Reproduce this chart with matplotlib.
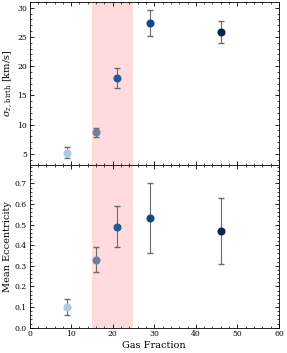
import matplotlib
matplotlib.use("Agg")
import matplotlib.pyplot as plt
from matplotlib.ticker import MultipleLocator

plt.rcParams['font.family'] = ['DejaVu Serif']
plt.rcParams['mathtext.fontset'] = 'dejavuserif'

gas_fraction = [9, 16, 21, 29, 46]
sigma_z = [5.2, 8.65, 18.0, 27.4, 25.9]
sigma_err = [0.95, 0.8, 1.7, 2.2, 1.9]
ecc = [0.10, 0.33, 0.49, 0.53, 0.47]
ecc_err = [0.04, 0.06, 0.10, 0.17, 0.16]
colors = ['#a8cce8', '#6a82a0', '#1f5a9a', '#0a4a8a', '#08244f']
span = (15, 25)

fig = plt.figure(figsize=(2.87, 3.53), dpi=100)
ax1 = fig.add_axes([0.103, 0.533, 0.869, 0.460])
ax2 = fig.add_axes([0.103, 0.0717, 0.869, 0.4613], sharex=ax1)

for ax, yv, ye in [(ax1, sigma_z, sigma_err), (ax2, ecc, ecc_err)]:
    ax.axvspan(span[0], span[1], color='#ff9aa2', alpha=0.35, lw=0, zorder=0)
    for x, y, e, c in zip(gas_fraction, yv, ye, colors):
        ax.errorbar(x, y, yerr=e, fmt='o', color=c, ms=4.8, ecolor='#6a6a6a',
                    elinewidth=0.8, capsize=2.5, capthick=1.0, zorder=3)
    ax.tick_params(which='both', direction='in', top=True, right=True, labelsize=5.5, pad=2)
    ax.tick_params(which='major', length=3, width=0.6)
    ax.tick_params(which='minor', length=1.5, width=0.5)
    for s in ax.spines.values():
        s.set_linewidth(0.6)
    ax.xaxis.set_major_locator(MultipleLocator(10))
    ax.xaxis.set_minor_locator(MultipleLocator(2))

ax1.set_xlim(0, 60)
ax1.set_ylim(3.1, 30.9)
ax1.yaxis.set_major_locator(MultipleLocator(5))
ax1.yaxis.set_minor_locator(MultipleLocator(1))
ax1.tick_params(labelbottom=False)
ax1.set_ylabel(r'$\sigma_{z,\,\mathrm{birth}}$ [km/s]', fontsize=7, labelpad=2)

ax2.set_ylim(0, 0.79)
ax2.yaxis.set_major_locator(MultipleLocator(0.1))
ax2.yaxis.set_minor_locator(MultipleLocator(0.02))
ax2.set_ylabel('Mean Eccentricity', fontsize=7, labelpad=2)
ax2.set_xlabel('Gas Fraction', fontsize=7, labelpad=2)

fig.savefig('out.png', dpi=100)
